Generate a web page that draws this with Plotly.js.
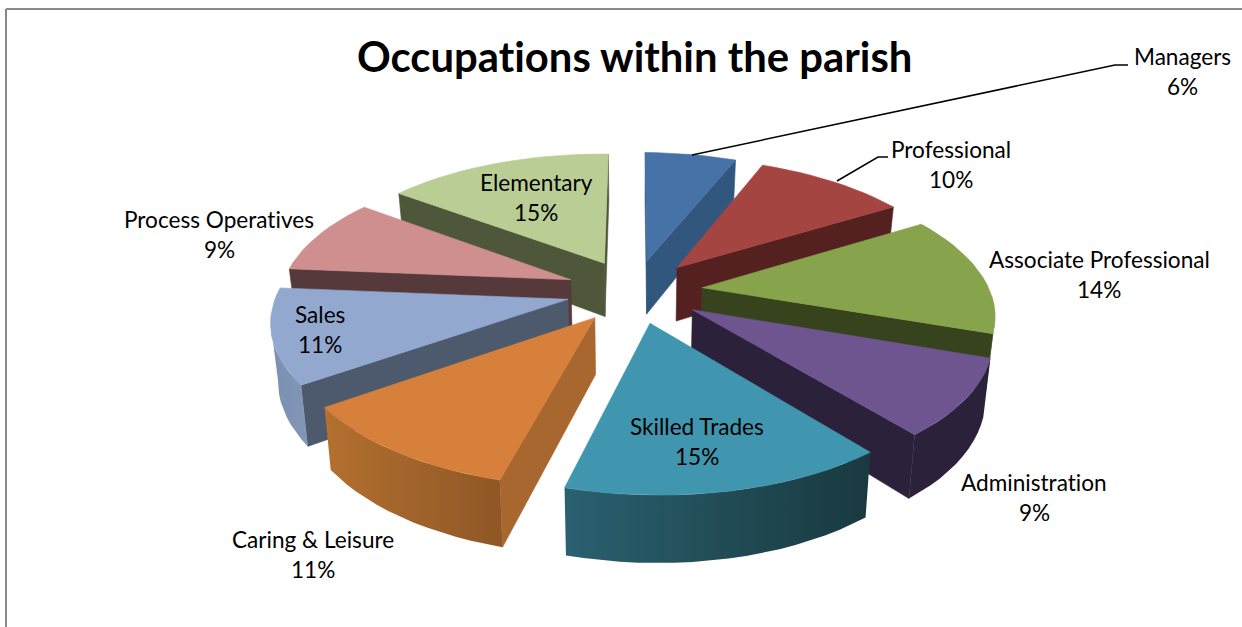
<!DOCTYPE html>
<html><head><meta charset="utf-8">
<script src="https://cdn.plot.ly/plotly-3.0.1.min.js"></script>
<style>html,body{margin:0;padding:0;background:#fff}#c{width:1242px;height:627px}
svg text{font-variant-ligatures:none;font-feature-settings:"liga" 0}</style>
</head><body><div id="c"></div>
<script>
// Data
const categories = ["Managers","Professional","Associate Professional","Administration","Skilled Trades","Caring & Leisure","Sales","Process Operatives","Elementary"];
const values = [6,10,14,9,15,11,11,9,15];
const chartTitle = "Occupations within the parish";

// Styles
const topColors = ["#4672a7","#a54542","#87a44c","#6f5590","#4096ae","#d7803b","#92a8cf","#cf8f8e","#b9cd95"];
const cutColors = ["#32577f","#552120","#36431c","#2b213b","#1a3d47","#a8672e","#4d5a6e","#563a3b","#4e5739"];
const wallRight = ["#32577f","#552120","#36431c","#2b213b","#19393f","#8f5726","#8197b8","#563a3b","#4e5739"];
const wallLeft  = ["#32577f","#552120","#36431c","#2b213b","#2a6070","#b3702f","#7c90b0","#563a3b","#4e5739"];

// Label layout (pixel anchors) — name centre [x,y], percent line 30px below
const labelAnchor = [[1182,56],[951,149],[1099,259],[1034,482],[697,426],[313,539],[320,314],[219,219],[536,182]];
const leaderManagers = {x:[692,1115,1128], y:[155,65,65]};
const leaderProfessional = {x:[837,878,888], y:[181,157,157]};
const fontFamily = "Lato, 'Open Sans', sans-serif";

// Projection of a tilted, perspective pie
const view = {cx:634.5, cy:291, ax:289, ay:134, perspX:0.155, perspY:0.155, depth:55, explode:0.237, startDeg:0, shear:0.01, taper:0.98};
const rad = d => d*Math.PI/180;
function project(a, r, mid, zdown){
  const X = view.explode*Math.sin(rad(mid)) + r*Math.sin(rad(a));
  const Y = view.explode*Math.cos(rad(mid)) + r*Math.cos(rad(a));
  const sx = 1/(1+view.perspX*Y), sy = 1/(1+view.perspY*Y);
  const dx = view.ax*X*sx;
  return [view.cx + dx*(zdown?view.taper:1), view.cy - view.ay*Y*sy + view.shear*dx + (zdown?view.depth*sy:0)];
}
function poly(pts,color,grad){
  const t={type:'scatter',mode:'lines',x:pts.map(p=>p[0]).concat(pts[0][0]),y:pts.map(p=>p[1]).concat(pts[0][1]),
    fill:'toself',fillcolor:color,line:{color:color,width:0.6},hoverinfo:'skip',showlegend:false};
  if(grad){t.fillgradient={type:'horizontal',colorscale:[[0,grad[0]],[1,grad[1]]]};t.line={color:'rgba(0,0,0,0)',width:0};}
  return t;
}

const total = values.reduce((a,b)=>a+b,0);
let acc = view.startDeg;
const wedges = values.map((v,i)=>{const a0=acc,a1=acc+v/total*360;acc=a1;return {i,a0,a1,mid:(a0+a1)/2};});
wedges.sort((p,q)=>Math.cos(rad(q.mid))-Math.cos(rad(p.mid)));

const traces=[];
wedges.forEach(w=>{
  const {i,a0,a1,mid}=w;
  const n=Math.max(2,Math.ceil((a1-a0)/3));
  const angs=[];for(let k=0;k<=n;k++)angs.push(a0+(a1-a0)*k/n);
  const tipT=project(0,0,mid,false),tipB=project(0,0,mid,true);
  const arcT=angs.map(a=>project(a,1,mid,false)),arcB=angs.map(a=>project(a,1,mid,true));
  if(arcT[0][0]<tipT[0]) traces.push(poly([tipT,arcT[0],arcB[0],tipB],cutColors[i]));
  if(tipT[0]<arcT[n][0]) traces.push(poly([arcT[n],tipT,tipB,arcB[n]],cutColors[i]));
  // outer wall: the run of arc segments that face the viewer
  const runT=[],runB=[];
  for(let k=0;k<n;k++){
    if(arcT[k+1][0]<arcT[k][0]){
      if(!runT.length){runT.push(arcT[k]);runB.push(arcB[k]);}
      runT.push(arcT[k+1]);runB.push(arcB[k+1]);
    }
  }
  if(runT.length) traces.push(poly(runT.concat(runB.slice().reverse()),wallLeft[i],[wallLeft[i],wallRight[i]]));
  traces.push(poly([tipT].concat(arcT),topColors[i]));
});
[leaderManagers,leaderProfessional].forEach(l=>traces.push({type:'scatter',mode:'lines',x:l.x,y:l.y,line:{color:'#000',width:1.5},hoverinfo:'skip',showlegend:false}));

const annotations=[];
categories.forEach((c,i)=>{
  const [x,y]=labelAnchor[i];
  const base={xref:'x',yref:'y',x:x,showarrow:false,xanchor:'center',yanchor:'middle',font:{family:fontFamily,size:22.6,color:'#000'}};
  annotations.push(Object.assign({},base,{y:y,text:c}));
  annotations.push(Object.assign({},base,{y:y+30,text:Math.round(values[i]/total*100)+'%'}));
});
annotations.push({xref:'x',yref:'y',x:634,y:56,showarrow:false,xanchor:'center',yanchor:'middle',text:'<b>'+chartTitle+'</b>',font:{family:fontFamily,size:41.8,color:'#000'}});

const layout={width:1242,height:627,margin:{l:0,r:0,t:0,b:0},paper_bgcolor:'#fff',plot_bgcolor:'#fff',showlegend:false,
  xaxis:{range:[0,1242],visible:false,fixedrange:true},
  yaxis:{range:[627,0],visible:false,fixedrange:true},
  annotations:annotations,
  shapes:[
    {type:'line',xref:'x',yref:'y',x0:6,y0:9,x1:1242,y1:9,line:{color:'#8a8a8a',width:2}},
    {type:'line',xref:'x',yref:'y',x0:6,y0:9,x1:6,y1:627,line:{color:'#8a8a8a',width:2}}
  ]};
Plotly.newPlot('c',traces,layout,{displayModeBar:false,staticPlot:true});
</script></body></html>
